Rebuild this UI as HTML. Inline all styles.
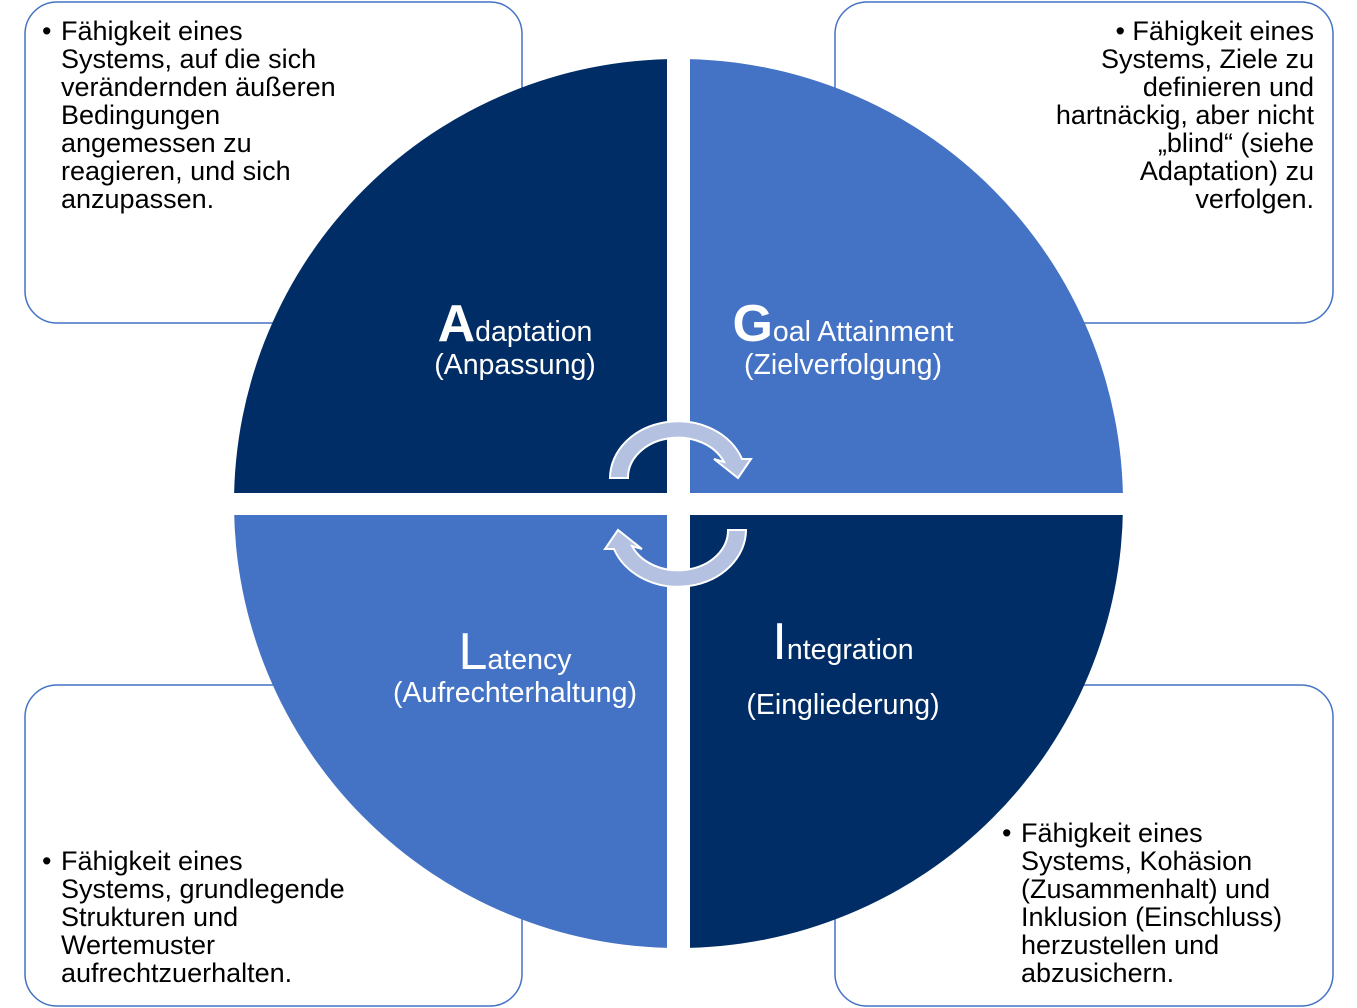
<!DOCTYPE html>
<html><head><meta charset="utf-8"><style>
html,body{margin:0;padding:0;background:#fff;}
svg{display:block;}
text{font-family:"Liberation Sans",Arial,sans-serif;}
</style></head><body>
<svg width="1357" height="1008" viewBox="0 0 1357 1008" xmlns="http://www.w3.org/2000/svg">
<g fill="#fff" stroke="#4472C4" stroke-width="1.5">
<rect x="25" y="2" width="497" height="321" rx="32"/>
<rect x="835" y="2" width="498" height="321" rx="32"/>
<rect x="25" y="685" width="497" height="321" rx="32"/>
<rect x="835" y="685" width="498" height="321" rx="32"/>
</g>
<g font-size="27" fill="#000">
<text x="42" y="40">•</text>
<text x="61" y="40">Fähigkeit eines</text>
<text x="61" y="68">Systems, auf die sich</text>
<text x="61" y="96">verändernden äußeren</text>
<text x="61" y="124">Bedingungen</text>
<text x="61" y="152">angemessen zu</text>
<text x="61" y="180">reagieren, und sich</text>
<text x="61" y="208">anzupassen.</text>
</g>
<g font-size="27" fill="#000" text-anchor="end">
<text x="1314" y="40">• Fähigkeit eines</text>
<text x="1314" y="68">Systems, Ziele zu</text>
<text x="1314" y="96">definieren und</text>
<text x="1314" y="124">hartnäckig, aber nicht</text>
<text x="1314" y="152">„blind“ (siehe</text>
<text x="1314" y="180">Adaptation) zu</text>
<text x="1314" y="208">verfolgen.</text>
</g>
<g font-size="27" fill="#000">
<text x="42" y="870">•</text>
<text x="61" y="870">Fähigkeit eines</text>
<text x="61" y="898">Systems, grundlegende</text>
<text x="61" y="926">Strukturen und</text>
<text x="61" y="954">Wertemuster</text>
<text x="61" y="982">aufrechtzuerhalten.</text>
</g>
<g font-size="27" fill="#000">
<text x="1002" y="842">•</text>
<text x="1021" y="842">Fähigkeit eines</text>
<text x="1021" y="870">Systems, Kohäsion</text>
<text x="1021" y="898">(Zusammenhalt) und</text>
<text x="1021" y="926">Inklusion (Einschluss)</text>
<text x="1021" y="954">herzustellen und</text>
<text x="1021" y="982">abzusichern.</text>
</g>
<defs><clipPath id="c"><circle cx="678.5" cy="503.5" r="444.5"/></clipPath></defs>
<g clip-path="url(#c)">
<rect x="200" y="40" width="467" height="453" fill="#002D66"/>
<rect x="690" y="40" width="460" height="453" fill="#4472C4"/>
<rect x="200" y="515" width="467" height="460" fill="#4472C4"/>
<rect x="690" y="515" width="460" height="460" fill="#002D66"/>
</g>
<g fill="#fff" text-anchor="middle">
<text x="515" y="341" font-size="28.5"><tspan font-size="52" font-weight="bold">A</tspan>daptation</text>
<text x="515" y="374" font-size="28.5">(Anpassung)</text>
<text x="843" y="341" font-size="28.5"><tspan font-size="52" font-weight="bold">G</tspan>oal Attainment</text>
<text x="843" y="374" font-size="28.5">(Zielverfolgung)</text>
<text x="515" y="669" font-size="28.5"><tspan font-size="52">L</tspan>atency</text>
<text x="515" y="702" font-size="28.5">(Aufrechterhaltung)</text>
<text x="843" y="659" font-size="28.5"><tspan font-size="52">I</tspan>ntegration</text>
<text x="843" y="714" font-size="28.5">(Eingliederung)</text>
</g>
<g fill="#B4C1E0" stroke="#fff" stroke-width="2" stroke-linejoin="miter">
<path d="M610,478 A68,57 0 0 1 742,459 L751,459 L738,478 L714,459 L724,462 A50,40 0 0 0 628,478 Z"/>
<path d="M610,478 A68,57 0 0 1 742,459 L751,459 L738,478 L714,459 L724,462 A50,40 0 0 0 628,478 Z" transform="rotate(180 678 504)"/>
</g>
</svg>
</body></html>
